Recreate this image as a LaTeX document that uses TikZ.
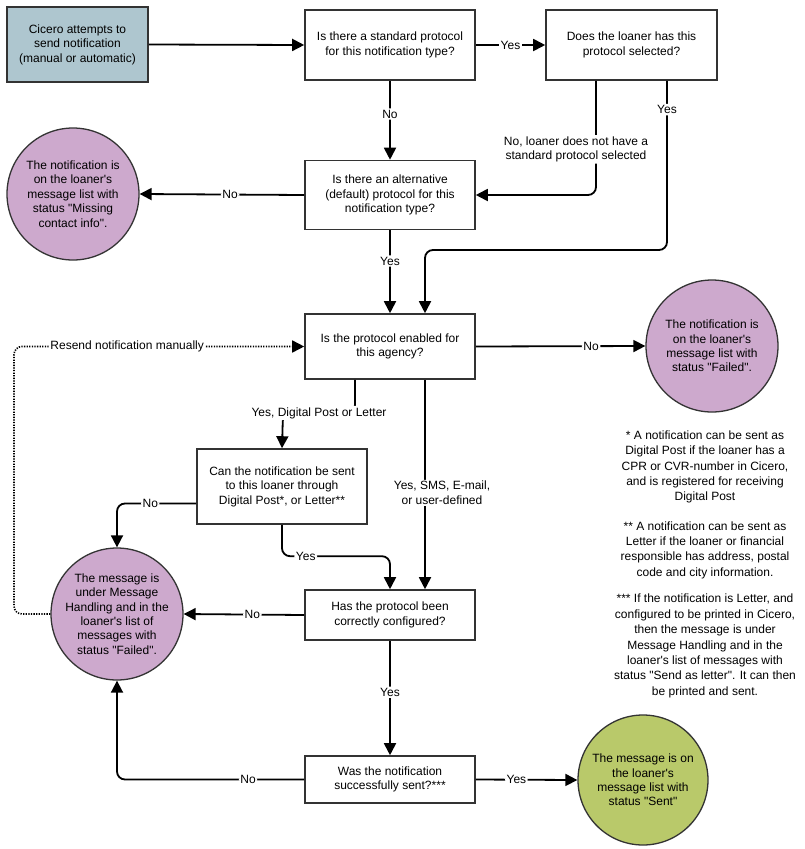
\documentclass[tikz,border=0pt]{standalone}
\usepackage{fontspec}
\newfontfamily\arialf{Liberation Sans}
\usetikzlibrary{arrows.meta,calc}
\definecolor{startfill}{HTML}{AEC6CF}
\definecolor{failfill}{HTML}{CDA9CD}
\definecolor{okfill}{HTML}{B9C96A}
\definecolor{edgegray}{HTML}{333333}
\begin{document}
\begin{tikzpicture}[x=1pt,y=-1pt,
  every node/.style={font=\arialf\fontsize{12}{14.4}\selectfont, text=black},
  box/.style={draw=edgegray, line width=1.6pt, fill=white, minimum width=170pt, align=center, inner sep=2pt},
  term/.style={circle, draw=edgegray, line width=1.3pt, minimum size=132pt, inner sep=0pt, align=center},
  lbl/.style={fill=white, inner sep=1.5pt, align=center},
  note/.style={align=center, inner sep=0pt, font=\arialf\fontsize{12}{15.4}\selectfont},
  arr/.style={line width=1.8pt, rounded corners=8pt, -{Triangle[length=12pt,width=12pt]}},
  dots/.style={line width=1.6pt, dash pattern=on 1.3pt off 1.3pt, rounded corners=8pt, -{Triangle[length=12pt,width=12pt]}}]
\useasboundingbox (0,0) rectangle (805,849);

% nodes
\node[box, fill=startfill, minimum width=141pt, minimum height=75pt] (start) at (77.5,44.5) {Cicero attempts to\\send notification\\(manual or automatic)};
\node[box, minimum height=70pt] (b1) at (390,45) {Is there a standard protocol\\for this notification type?};
\node[box, minimum width=171pt, minimum height=70pt] (b2) at (631.5,45) {Does the loaner has this\\protocol selected?};
\node[box, minimum height=69pt] (b3) at (390,195) {Is there an alternative\\(default) protocol for this\\notification type?};
\node[box, minimum height=65pt] (b4) at (390,346.5) {Is the protocol enabled for\\this agency?};
\node[box, minimum height=75pt] (b5) at (282,486.5) {Can the notification be sent\\to this loaner through\\Digital Post*, or Letter**};
\node[box, minimum height=50pt] (b6) at (390,615) {Has the protocol been\\correctly configured?};
\node[box, minimum height=47pt] (b7) at (390,779.5) {Was the notification\\successfully sent?***};

\node[term, fill=failfill] (c1) at (73,194) {The notification is\\on the loaner's\\message list with\\status "Missing\\contact info".};
\node[term, fill=failfill] (c2) at (712,346) {The notification is\\on the loaner's\\message list with\\status "Failed".};
\node[term, fill=failfill] (c3) at (117,614) {The message is\\under Message\\Handling and in the\\loaner's list of\\messages with\\status "Failed".};
\node[term, fill=okfill, minimum size=130pt] (c4) at (643,780) {The message is on\\the loaner's\\message list with\\status "Sent"};

\node[note] (n1) at (705,467) {* A notification can be sent as\\Digital Post if the loaner has a\\CPR or CVR-number in Cicero,\\and is registered for receiving\\Digital Post};
\node[note] (n2) at (705,550) {** A notification can be sent as\\Letter if the loaner or financial\\responsible has address, postal\\code and city information.};
\node[note] (n3) at (705,646) {*** If the notification is Letter, and\\configured to be printed in Cicero,\\then the message is under\\Message Handling and in the\\loaner's list of messages with\\status "Send as letter". It can then\\be printed and sent.};

% connectors
\draw[arr] (start.east) -- (b1.west);
\draw[arr] (b1.east) -- node[lbl]{Yes} (b2.west);
\draw[arr] (b1.south) -- node[lbl, pos=0.42]{No} (b3.north);
\draw[arr] ([xshift=-35.5pt]b2.south) |- node[lbl, pos=0.30, xshift=-20pt]{No, loaner does not have a\\standard protocol selected} (b3.east);
\coordinate (j1) at (425,250);
\draw[arr] ([xshift=35.5pt]b2.south) |- node[lbl, pos=0.085]{Yes} (j1) -- ([xshift=35pt]b4.north);
\draw[arr] (b3.west) -- node[lbl, pos=0.45]{No} (c1.east);
\draw[arr] (b3.south) -- node[lbl, pos=0.37]{Yes} (b4.north);
\draw[arr] (b4.east) -- node[lbl, pos=0.68]{No} (c2.west);
\coordinate (j2) at (355,413);
\coordinate (j3) at (283,413);
\draw[arr] ([xshift=-35pt]b4.south) -- (j2) -- node[lbl]{Yes, Digital Post or Letter} (j3) -- (b5.north);
\draw[arr] ([xshift=35pt]b4.south) -- node[lbl, pos=0.54, xshift=17pt]{Yes, SMS, E-mail,\\or user-defined} ([xshift=35pt]b6.north);
\draw[arr] ([yshift=-17pt]b5.west) -| node[lbl, pos=0.29]{No} (c3.north);
\draw[arr] (b5.south) |- node[lbl, pos=0.61]{Yes} ([yshift=33pt]b6.north) -- (b6.north);
\draw[arr] (b6.west) -- node[lbl, pos=0.43]{No} (c3.east);
\draw[arr] (b6.south) -- node[lbl, pos=0.45]{Yes} (b7.north);
\draw[arr] (b7.east) -- node[lbl, pos=0.4]{Yes} (c4.west);
\draw[arr] (b7.west) -| node[lbl, pos=0.15]{No} (c3.south);
\coordinate (rc) at (14,346.5);
\draw[dots] (c3.west) -| (rc) -- node[lbl, pos=0.39]{Resend notification manually} (b4.west);
\end{tikzpicture}
\end{document}
